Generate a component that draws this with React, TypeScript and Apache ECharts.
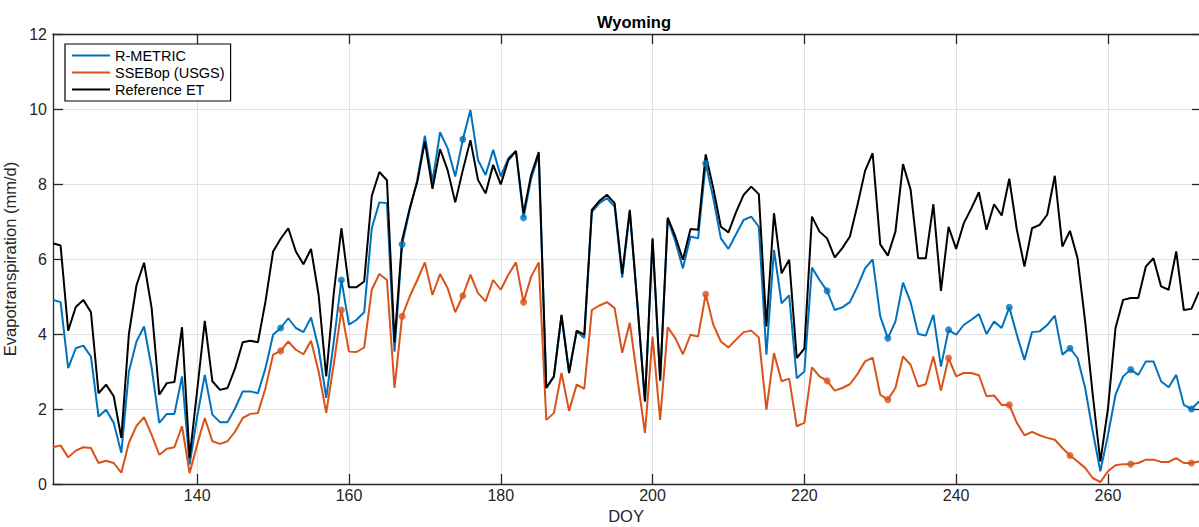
import { useEffect, useRef } from "react";
import * as echarts from "echarts";

// Day of year of the first value in each series (one value per day)
const FIRST_DOY = 121;
const X_MIN = 121;
const X_MAX = 272;

// R-METRIC daily ET (mm/d), DOY 121..272
const rMetric = [
  4.91, 4.85, 3.09, 3.62, 3.69, 3.4, 1.8, 1.98, 1.63, 0.83,
  3.0, 3.8, 4.2, 3.1, 1.63, 1.87, 1.87, 2.87, 0.52, 1.8,
  2.91, 1.85, 1.65, 1.65, 2.02, 2.47, 2.47, 2.42, 3.09, 3.98,
  4.16, 4.42, 4.16, 4.05, 4.44, 3.62, 2.3, 3.8, 5.44, 4.25,
  4.38, 4.58, 6.82, 7.51, 7.49, 3.53, 6.39, 7.31, 8.11, 9.29,
  8.06, 9.38, 8.95, 8.2, 9.19, 9.97, 8.64, 8.24, 8.91, 8.2,
  8.69, 8.88, 7.1, 8.15, 8.77, 2.56, 2.87, 4.49, 3.0, 4.07,
  3.89, 7.25, 7.49, 7.62, 7.4, 5.5, 7.26, 4.8, 2.2, 6.51,
  2.74, 7.07, 6.47, 5.75, 6.6, 6.55, 8.55, 7.62, 6.55, 6.27,
  6.66, 7.04, 7.13, 6.86, 3.45, 6.24, 4.82, 5.03, 2.82, 3.0,
  5.77, 5.44, 5.15, 4.64, 4.71, 4.85, 5.27, 5.75, 5.99, 4.47,
  3.89, 4.33, 5.37, 4.85, 4.0, 3.96, 4.51, 3.13, 4.11, 3.98,
  4.24, 4.38, 4.53, 4.0, 4.33, 4.16, 4.71, 3.98, 3.31, 4.05,
  4.07, 4.24, 4.49, 3.45, 3.62, 3.36, 2.56, 1.4, 0.34, 1.3,
  2.38, 2.87, 3.05, 2.91, 3.27, 3.27, 2.74, 2.58, 2.91, 2.11,
  2.0, 2.2,
];

// SSEBop (USGS) daily ET (mm/d), DOY 121..272
const ssebop = [
  0.98, 1.03, 0.71, 0.89, 0.98, 0.96, 0.56, 0.62, 0.56, 0.3,
  1.1, 1.55, 1.78, 1.31, 0.78, 0.94, 0.98, 1.54, 0.29, 1.05,
  1.76, 1.14, 1.07, 1.14, 1.4, 1.76, 1.87, 1.89, 2.56, 3.45,
  3.55, 3.8, 3.58, 3.46, 3.82, 3.0, 1.9, 3.2, 4.64, 3.53,
  3.52, 3.64, 5.18, 5.6, 5.44, 2.56, 4.47, 5.0, 5.44, 5.91,
  5.04, 5.6, 5.22, 4.58, 5.02, 5.58, 5.09, 4.87, 5.44, 5.18,
  5.58, 5.91, 4.85, 5.53, 5.91, 1.71, 1.89, 2.96, 1.95, 2.65,
  2.54, 4.64, 4.76, 4.85, 4.69, 3.5, 4.3, 2.82, 1.36, 3.93,
  1.71, 4.18, 3.89, 3.46, 3.98, 3.93, 5.06, 4.25, 3.8, 3.64,
  3.85, 4.05, 4.09, 3.91, 1.98, 3.49, 2.74, 2.81, 1.54, 1.63,
  3.11, 2.87, 2.75, 2.49, 2.56, 2.66, 2.93, 3.27, 3.37, 2.38,
  2.25, 2.56, 3.4, 3.18, 2.6, 2.66, 3.4, 2.49, 3.36, 2.87,
  2.96, 2.96, 2.9, 2.34, 2.36, 2.11, 2.11, 1.63, 1.3, 1.39,
  1.3, 1.23, 1.18, 0.96, 0.76, 0.6, 0.43, 0.16, 0.05, 0.34,
  0.5, 0.53, 0.53, 0.56, 0.65, 0.65, 0.59, 0.59, 0.69, 0.56,
  0.56, 0.6,
];

// Reference ET (mm/d), DOY 121..272
const referenceEt = [
  6.42, 6.36, 4.09, 4.72, 4.91, 4.58, 2.42, 2.65, 2.34, 1.23,
  4.0, 5.3, 5.9, 4.69, 2.38, 2.69, 2.72, 4.18, 0.7, 2.5,
  4.35, 2.74, 2.51, 2.56, 3.09, 3.78, 3.82, 3.78, 4.87, 6.2,
  6.54, 6.82, 6.2, 5.86, 6.27, 5.04, 2.87, 5.1, 6.82, 5.25,
  5.25, 5.4, 7.68, 8.32, 8.1, 3.78, 6.5, 7.35, 8.06, 9.13,
  7.87, 8.93, 8.37, 7.51, 8.37, 9.17, 8.11, 7.75, 8.51, 7.99,
  8.64, 8.88, 7.22, 8.24, 8.85, 2.56, 2.87, 4.51, 2.96, 4.09,
  3.98, 7.31, 7.55, 7.71, 7.49, 5.6, 7.31, 4.8, 2.2, 6.55,
  2.78, 7.1, 6.6, 5.98, 6.8, 6.78, 8.79, 7.89, 6.86, 6.71,
  7.25, 7.71, 7.93, 7.73, 4.2, 7.22, 5.62, 5.98, 3.36, 3.61,
  7.13, 6.73, 6.55, 6.04, 6.29, 6.6, 7.44, 8.35, 8.82, 6.39,
  6.09, 6.73, 8.53, 7.85, 6.02, 6.02, 7.46, 5.15, 6.86, 6.27,
  6.95, 7.35, 7.78, 6.78, 7.46, 7.16, 8.14, 6.78, 5.8, 6.82,
  6.91, 7.18, 8.22, 6.33, 6.75, 6.02, 4.33, 2.38, 0.6, 2.0,
  4.16, 4.91, 4.96, 4.96, 5.8, 6.02, 5.27, 5.18, 6.2, 4.64,
  4.67, 5.13,
];

// Satellite overpass days marked with dots
const overpassDays = [151, 159, 167, 175, 183, 207, 223, 231, 239, 247, 255, 263, 271];

const xTicks = [140, 160, 180, 200, 220, 240, 260];

const FONT = '"Liberation Sans", Arial, Helvetica, sans-serif';
const AXIS_COLOR = "#262626";
const GRID_COLOR = "#e1e1e1";
const BLUE = "#0072BD";
const ORANGE = "#D95319";
const BLACK = "#000000";

const days = rMetric.map((_, i) => FIRST_DOY + i);
const pairs = (vals: number[]) => days.map((d, i) => [d, vals[i]]);
const dots = (vals: number[]) =>
  overpassDays.map((d) => [d, vals[d - FIRST_DOY]]);

export default function App() {
  const ref = useRef<HTMLDivElement>(null);

  useEffect(() => {
    if (!ref.current) return;
    const chart = echarts.init(ref.current, undefined, { renderer: "svg" });

    const tickLabel = { fontFamily: FONT, fontSize: 16, color: AXIS_COLOR };

    chart.setOption({
      animation: false,
      backgroundColor: "#ffffff",
      title: {
        text: "Wyoming",
        left: 629,
        top: 8,
        textAlign: "center",
        textStyle: { fontFamily: FONT, fontSize: 16.5, fontWeight: "bold", color: "#000" },
      },
      legend: {
        data: ["R-METRIC", "SSEBop (USGS)", "Reference ET"],
        orient: "vertical",
        left: 65,
        top: 44,
        backgroundColor: "#ffffff",
        borderColor: "#000000",
        borderWidth: 1.2,
        borderRadius: 0,
        padding: [3, 6, 3, 7],
        icon: "rect",
        itemWidth: 38,
        itemHeight: 2,
        itemGap: 0,
        textStyle: { fontFamily: FONT, fontSize: 14.5, color: "#000", lineHeight: 17 },
      },
      grid: {
        left: 53,
        right: 0,
        top: 34,
        bottom: 43,
        containLabel: false,
        outerBoundsMode: "none",
      },
      xAxis: [
        {
          type: "value",
          min: X_MIN,
          max: X_MAX,
          position: "bottom",
          name: "DOY",
          nameLocation: "middle",
          nameGap: 19,
          nameTextStyle: { fontFamily: FONT, fontSize: 16.5, color: AXIS_COLOR },
          axisLine: { show: true, onZero: false, lineStyle: { color: AXIS_COLOR, width: 1.3 } },
          axisTick: {
            show: true,
            inside: true,
            length: 10,
            customValues: xTicks,
            lineStyle: { color: AXIS_COLOR, width: 1.3 },
          },
          axisLabel: { ...tickLabel, margin: 3, customValues: xTicks },
          splitLine: { show: true, lineStyle: { color: GRID_COLOR, width: 1 } },
        },
        {
          type: "value",
          min: X_MIN,
          max: X_MAX,
          position: "top",
          axisLine: { show: true, onZero: false, lineStyle: { color: AXIS_COLOR, width: 1.3 } },
          axisTick: {
            show: true,
            inside: true,
            length: 10,
            customValues: xTicks,
            lineStyle: { color: AXIS_COLOR, width: 1.3 },
          },
          axisLabel: { show: false },
          splitLine: { show: false },
        },
      ],
      yAxis: [
        {
          type: "value",
          min: 0,
          max: 12,
          interval: 2,
          position: "left",
          name: "Evapotranspiration (mm/d)",
          nameLocation: "middle",
          nameGap: 28,
          nameTextStyle: { fontFamily: FONT, fontSize: 16.5, color: AXIS_COLOR },
          axisLine: { show: true, onZero: false, lineStyle: { color: AXIS_COLOR, width: 1.3 } },
          axisTick: { show: true, inside: true, length: 10, lineStyle: { color: AXIS_COLOR, width: 1.3 } },
          axisLabel: { ...tickLabel, margin: 6 },
          splitLine: { show: true, lineStyle: { color: GRID_COLOR, width: 1 } },
        },
        {
          type: "value",
          min: 0,
          max: 12,
          interval: 2,
          position: "right",
          // the right spine falls on the page edge; only its ticks show
          axisLine: { show: false, onZero: false },
          axisTick: { show: true, inside: true, length: 7, lineStyle: { color: AXIS_COLOR, width: 1.3 } },
          axisLabel: { show: false },
          splitLine: { show: false },
        },
      ],
      series: [
        {
          name: "R-METRIC",
          type: "line",
          data: pairs(rMetric),
          color: BLUE,
          showSymbol: false,
          symbol: "none",
          lineStyle: { color: BLUE, width: 2 },
          z: 2,
        },
        {
          name: "SSEBop (USGS)",
          type: "line",
          data: pairs(ssebop),
          color: ORANGE,
          showSymbol: false,
          symbol: "none",
          lineStyle: { color: ORANGE, width: 2 },
          z: 2,
        },
        {
          name: "Reference ET",
          type: "line",
          data: pairs(referenceEt),
          color: BLACK,
          showSymbol: false,
          symbol: "none",
          lineStyle: { color: BLACK, width: 2 },
          z: 3,
        },
        {
          name: "R-METRIC overpass",
          type: "scatter",
          data: dots(rMetric),
          symbol: "circle",
          symbolSize: 7,
          itemStyle: { color: BLUE },
          z: 4,
        },
        {
          name: "SSEBop overpass",
          type: "scatter",
          data: dots(ssebop),
          symbol: "circle",
          symbolSize: 7,
          itemStyle: { color: ORANGE },
          z: 4,
        },
      ],
    });

    return () => chart.dispose();
  }, []);

  return (
    <div
      ref={ref}
      style={{ position: "fixed", left: 0, top: 0, width: 1199, height: 527, background: "#fff" }}
    />
  );
}
